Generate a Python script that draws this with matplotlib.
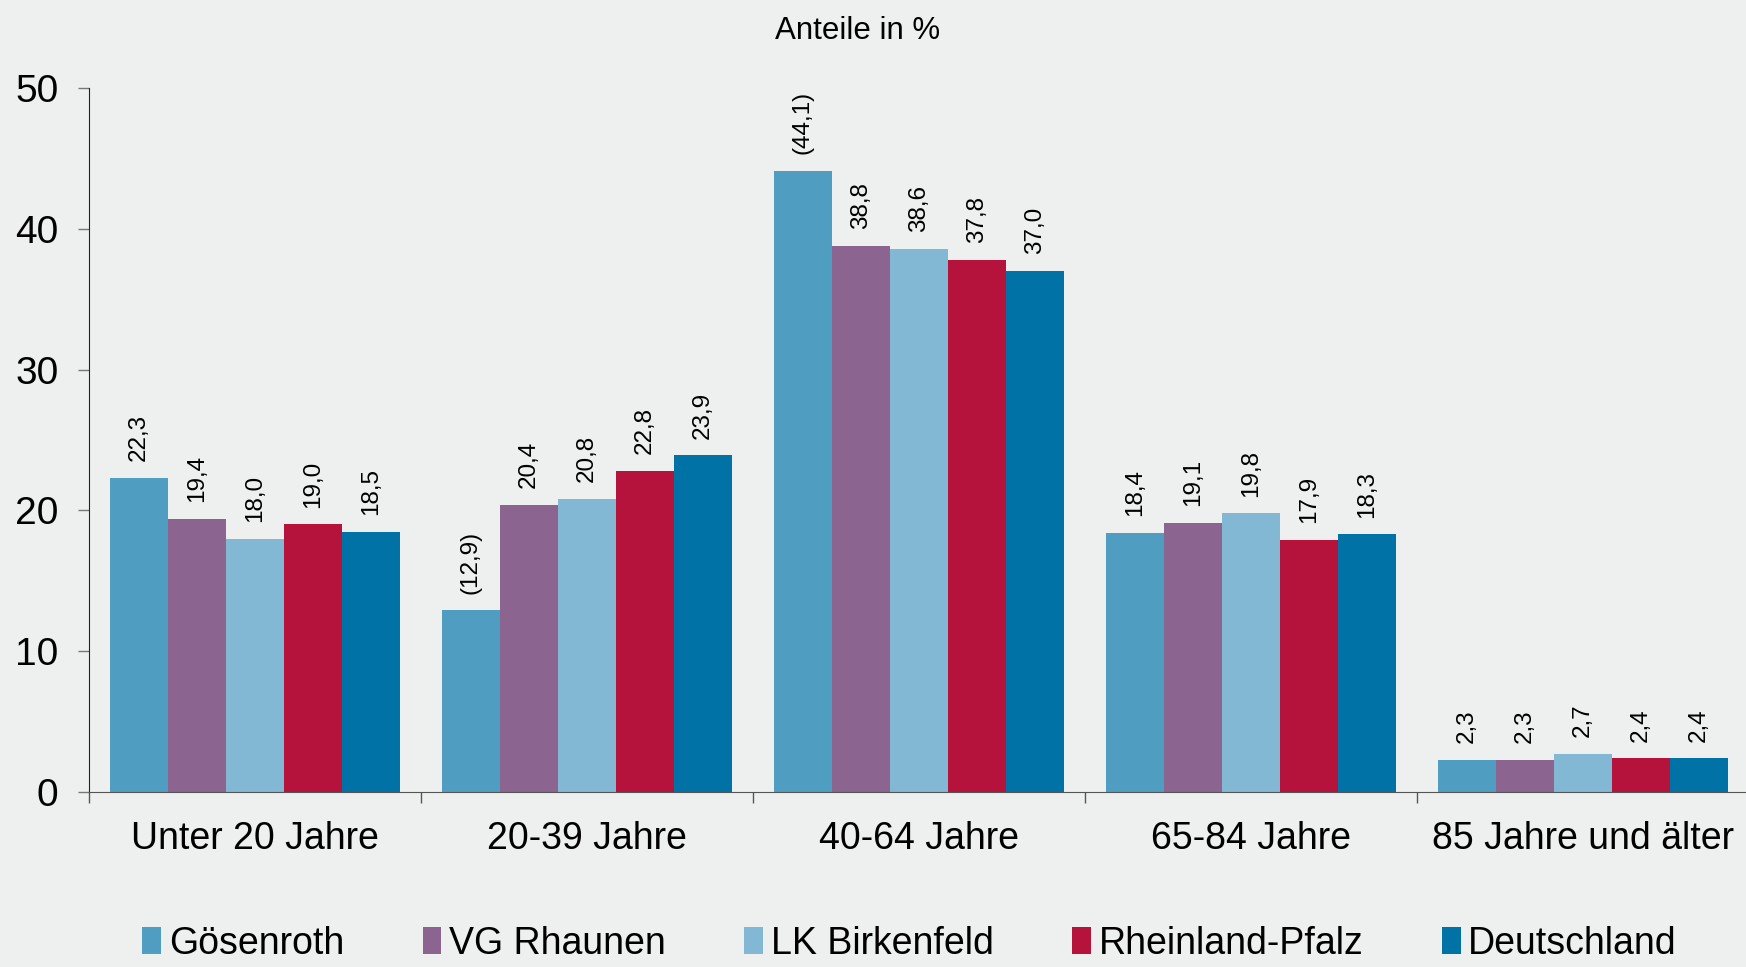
import matplotlib.pyplot as plt
import numpy as np

plt.rcParams['font.family'] = ['Liberation Sans', 'DejaVu Sans']

# Daten
categories = ['Unter 20 Jahre', '20-39 Jahre', '40-64 Jahre', '65-84 Jahre', '85 Jahre und älter']
series = ['Gösenroth', 'VG Rhaunen', 'LK Birkenfeld', 'Rheinland-Pfalz', 'Deutschland']
goesenroth = [22.3, 12.9, 44.1, 18.4, 2.3]
vg_rhaunen = [19.4, 20.4, 38.8, 19.1, 2.3]
lk_birkenfeld = [18.0, 20.8, 38.6, 19.8, 2.7]
rlp = [19.0, 22.8, 37.8, 17.9, 2.4]
deutschland = [18.5, 23.9, 37.0, 18.3, 2.4]
# Werte in Klammern (geringe Fallzahl)
bracketed = [False, True, True, False, False]

values = [goesenroth, vg_rhaunen, lk_birkenfeld, rlp, deutschland]
colors = ['#4F9DC0', '#8B648F', '#83B8D4', '#B5133C', '#0072A6']
bg = '#EEF0EF'

fig = plt.figure(figsize=(17.46, 9.67), dpi=100, facecolor=bg)
ax = fig.add_axes([89 / 1746, 175 / 967, 1660 / 1746, 704 / 967])
ax.set_facecolor(bg)

x = np.arange(len(categories))
w = 0.175
for i, (name, vals, col) in enumerate(zip(series, values, colors)):
    pos = x + (i - 2) * w
    bars = ax.bar(pos, vals, width=w, color=col, label=name, zorder=2)
    for j, (b, v) in enumerate(zip(bars, vals)):
        txt = f'{v:.1f}'.replace('.', ',')
        if i == 0 and bracketed[j]:
            txt = f'({txt})'
        ax.annotate(txt, (b.get_x() + b.get_width() / 2, b.get_height()),
                    xytext=(0, 12), textcoords='offset points',
                    ha='center', va='bottom', rotation=90, fontsize=17.5)

ax.set_xlim(-0.5, 4.5)
ax.set_ylim(0, 50)
ax.set_yticks([0, 10, 20, 30, 40, 50])
ax.tick_params(axis='y', labelsize=28, length=8, width=1, color='#777777', pad=14)

# Striche an den Gruppengrenzen, Beschriftung in der Mitte
ax.set_xticks(np.arange(-0.5, 5, 1))
ax.set_xticklabels([])
ax.set_xticks(x, minor=True)
ax.set_xticklabels(categories, minor=True)
ax.tick_params(axis='x', which='major', length=8, width=1, color='#555555')
ax.tick_params(axis='x', which='minor', length=0, labelsize=27, pad=21)

for s in ['top', 'right']:
    ax.spines[s].set_visible(False)
ax.spines['left'].set_color('#222222')
ax.spines['bottom'].set_color('#555555')

fig.text(858 / 1746, 1 - 31 / 967, 'Anteile in %', ha='center', va='center', fontsize=22.5)

fig.legend(loc='center', bbox_to_anchor=(0.521, 0.024), ncol=5, frameon=False,
           fontsize=27, handlelength=0.5, handleheight=0.75, handletextpad=0.2,
           columnspacing=2.1)

fig.savefig('out.png', dpi=100, facecolor=bg)
